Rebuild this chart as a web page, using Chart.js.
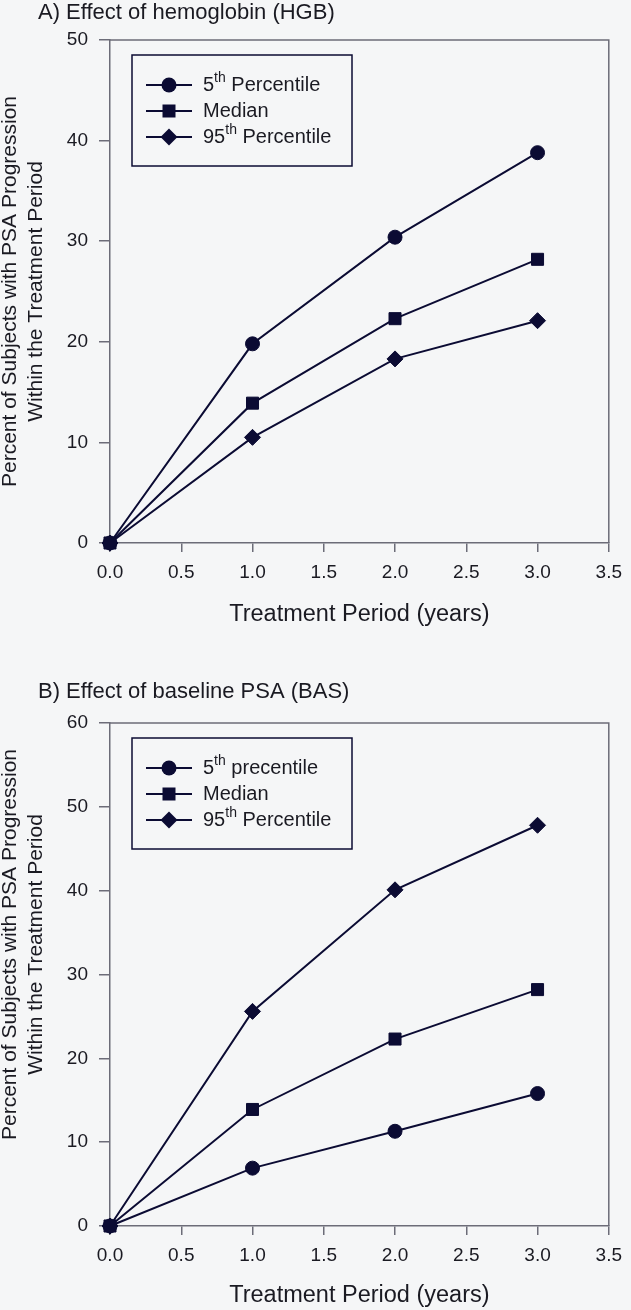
<!DOCTYPE html>
<html>
<head>
<meta charset="utf-8">
<script src="https://cdn.jsdelivr.net/npm/chart.js@4/dist/chart.umd.min.js"></script>
<style>
  html, body { margin: 0; padding: 0; background: #f5f6f7; }
  .panel { position: absolute; left: 0; width: 631px; }
  #panelA { top: 0; height: 660px; }
  #panelB { top: 660px; height: 650px; }
</style>
</head>
<body>
<div class="panel" id="panelA"><canvas id="chartA"></canvas></div>
<div class="panel" id="panelB"><canvas id="chartB"></canvas></div>
<script>
// data
const years = [0, 1, 2, 3];

const hgbP5 = [0, 19.8, 30.4, 38.8];
const hgbMedian = [0, 13.9, 22.3, 28.2];
const hgbP95 = [0, 10.5, 18.3, 22.1];

const basP5 = [0, 6.9, 11.3, 15.8];
const basMedian = [0, 13.9, 22.3, 28.2];
const basP95 = [0, 25.6, 40.1, 47.8];

// legend labels: [base, superscript, rest]
const legendA = [["5", "th", " Percentile"], ["Median", "", ""], ["95", "th", " Percentile"]];
const legendB = [["5", "th", " precentile"], ["Median", "", ""], ["95", "th", " Percentile"]];

const yTitle = ["Percent of Subjects with PSA Progression", "Within the Treatment Period"];
const xTitle = "Treatment Period (years)";

const family = '"Liberation Sans", Arial, sans-serif';
const dataColor = "#0b0b33";
const axisColor = "#6c6c78";
const textColor = "#1a1a22";

Chart.defaults.font.family = family;
Chart.defaults.color = textColor;

function toPoints(vals) {
  return years.map((x, i) => ({ x: x, y: vals[i] }));
}

function series(vals, style, radius) {
  return {
    data: toPoints(vals),
    borderColor: dataColor,
    borderWidth: 2,
    backgroundColor: dataColor,
    pointStyle: style,
    pointRadius: radius,
    pointBorderWidth: 1,
    pointBorderColor: dataColor,
    pointBackgroundColor: dataColor,
    tension: 0,
    clip: false,
  };
}

function drawMarker(ctx, style, x, y) {
  ctx.beginPath();
  if (style === "circle") {
    ctx.arc(x, y, 7.5, 0, Math.PI * 2);
  } else if (style === "rect") {
    ctx.rect(x - 6.5, y - 6.5, 13, 13);
  } else {
    ctx.moveTo(x, y - 8.5);
    ctx.lineTo(x + 8.5, y);
    ctx.lineTo(x, y + 8.5);
    ctx.lineTo(x - 8.5, y);
    ctx.closePath();
  }
  ctx.fill();
}

// frame, rotated y title and boxed legend
const extras = {
  id: "extras",
  beforeDatasetsDraw(chart) {
    const { ctx, chartArea: a } = chart;
    ctx.save();
    ctx.strokeStyle = axisColor;
    ctx.lineWidth = 1.5;
    ctx.beginPath();
    ctx.moveTo(a.left, a.top);
    ctx.lineTo(a.right, a.top);
    ctx.lineTo(a.right, a.bottom);
    ctx.stroke();
    ctx.restore();
  },
  afterDraw(chart, args, opts) {
    const { ctx, chartArea: a } = chart;
    ctx.save();
    ctx.fillStyle = textColor;
    ctx.font = "21px " + family;
    ctx.textAlign = "center";
    ctx.textBaseline = "middle";
    const cy = (a.top + a.bottom) / 2 + opts.titleShift;
    yTitle.forEach((line, i) => {
      ctx.save();
      ctx.translate(10 + i * 26, cy);
      ctx.rotate(-Math.PI / 2);
      ctx.fillText(line, 0, 0);
      ctx.restore();
    });

    // legend
    const bx = a.left + 22, by = a.top + 15;
    ctx.strokeStyle = dataColor;
    ctx.lineWidth = 1.5;
    ctx.strokeRect(bx, by, 220, 111);
    ctx.textAlign = "left";
    chart.data.datasets.forEach((ds, i) => {
      const y = by + 30 + i * 26;
      ctx.strokeStyle = dataColor;
      ctx.lineWidth = 2;
      ctx.beginPath();
      ctx.moveTo(bx + 14, y);
      ctx.lineTo(bx + 60, y);
      ctx.stroke();
      ctx.fillStyle = dataColor;
      drawMarker(ctx, ds.pointStyle, bx + 37, y);

      const [base, sup, rest] = opts.labels[i];
      let tx = bx + 71;
      ctx.fillStyle = textColor;
      ctx.font = "20px " + family;
      ctx.fillText(base, tx, y);
      tx += ctx.measureText(base).width;
      if (sup) {
        ctx.font = "14px " + family;
        ctx.fillText(sup, tx, y - 7);
        tx += ctx.measureText(sup).width;
        ctx.font = "20px " + family;
        ctx.fillText(rest, tx, y);
      }
    });
    ctx.restore();
  },
};

function makeChart(id, p) {
  return new Chart(document.getElementById(id), {
    type: "line",
    data: {
      datasets: [
        series(p.p5, "circle", 7),
        series(p.median, "rect", 8.5),
        series(p.p95, "rectRot", 8),
      ],
    },
    plugins: [extras],
    options: {
      responsive: true,
      maintainAspectRatio: false,
      animation: false,
      events: [],
      layout: { padding: { left: 38, right: 17, top: 0, bottom: 0 } },
      plugins: {
        legend: { display: false },
        tooltip: { enabled: false },
        title: {
          display: true,
          text: p.title,
          align: "start",
          color: textColor,
          font: { size: 22, weight: "normal" },
          padding: p.titlePad,
        },
        extras: { labels: p.labels, titleShift: p.titleShift },
      },
      scales: {
        x: {
          type: "linear",
          min: 0,
          max: 3.5,
          afterFit: (s) => { s.height = p.xHeight; },
          ticks: {
            stepSize: 0.5,
            padding: 9,
            color: textColor,
            font: { size: 19 },
            callback: (v) => v.toFixed(1),
          },
          grid: { display: true, drawOnChartArea: false, drawTicks: true, tickLength: 9, color: axisColor, lineWidth: 1.5 },
          border: { display: true, color: axisColor, width: 1.5 },
          title: {
            display: true,
            text: xTitle,
            color: textColor,
            font: { size: 23.5 },
            padding: { top: 0, bottom: p.xTitleBottom },
          },
        },
        y: {
          min: 0,
          max: p.yMax,
          afterFit: (s) => { s.width = 72; },
          ticks: { stepSize: 10, padding: 11, color: textColor, font: { size: 19 } },
          grid: { display: true, drawOnChartArea: false, drawTicks: true, tickLength: 11, color: axisColor, lineWidth: 1.5 },
          border: { display: true, color: axisColor, width: 1.5 },
        },
      },
    },
  });
}

const hgbChart = makeChart("chartA", {
  title: "A) Effect of hemoglobin (HGB)",
  p5: hgbP5, median: hgbMedian, p95: hgbP95,
  labels: legendA,
  yMax: 50,
  titlePad: { top: 0, bottom: 13.6 },
  xHeight: 117,
  xTitleBottom: 31,
  titleShift: 0,
});

const basChart = makeChart("chartB", {
  title: "B) Effect of baseline PSA (BAS)",
  p5: basP5, median: basMedian, p95: basP95,
  labels: legendB,
  yMax: 60,
  titlePad: { top: 18.8, bottom: 17.8 },
  xHeight: 84,
  xTitleBottom: 0,
  titleShift: -30,
});
</script>
</body>
</html>
